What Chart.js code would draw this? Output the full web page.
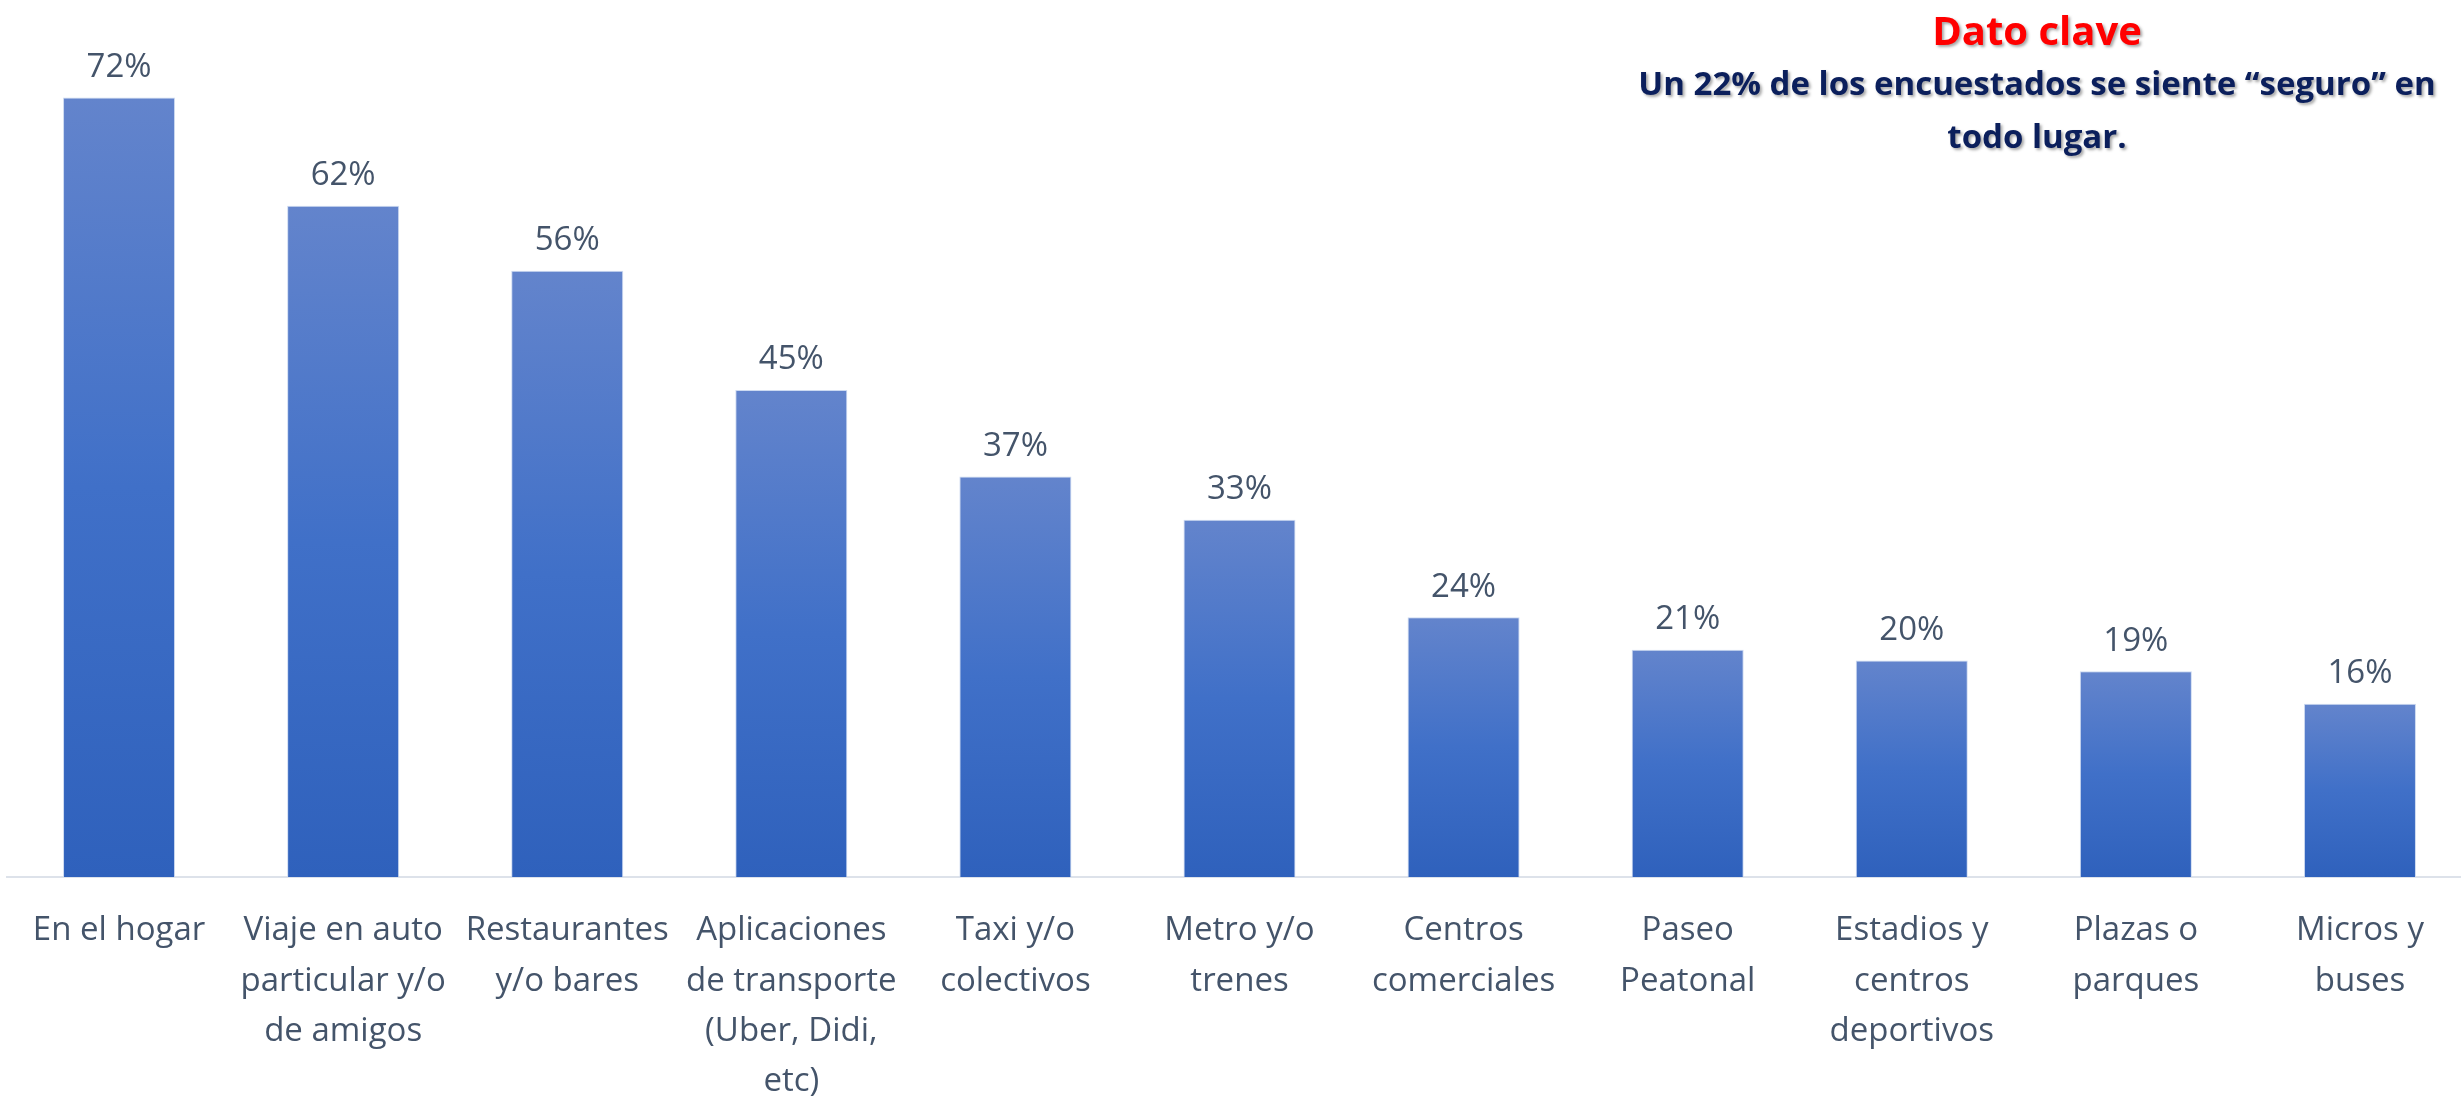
<!DOCTYPE html>
<html>
<head>
<meta charset="utf-8">
<script src="https://cdn.jsdelivr.net/npm/chart.js@4.4.1/dist/chart.umd.min.js"></script>
<style>
  html, body { margin: 0; padding: 0; background: #fff; overflow: hidden; }
  #wrap { position: relative; width: 2461px; height: 1097px; overflow: hidden; }
  #lugarChart { position: absolute; left: 0; top: 0; }
  #dato {
    position: absolute; left: 1537px; width: 1000px; top: 0;
    text-align: center; white-space: nowrap;
    font-family: "Open Sans", sans-serif; font-weight: 700;
    text-shadow: 2px 2px 3px rgba(0,0,0,0.35);
  }
  #dato .rojo { color: #ff0000; font-size: 40px; line-height: 52px; margin-top: 4px; }
  #dato .azul { color: #0b1f5c; font-size: 33px; line-height: 53px; }
</style>
</head>
<body>
<div id="wrap">
  <canvas id="lugarChart" width="2472" height="1097"></canvas>
  <div id="dato">
    <div class="rojo">Dato clave</div>
    <div class="azul">Un 22% de los encuestados se siente “seguro” en<br>todo lugar.</div>
  </div>
</div>
<script>
// lugares donde se sienten seguros
const lugares = [
    "En el hogar",
    ["Viaje en auto", "particular y/o", "de amigos"],
    ["Restaurantes", "y/o bares"],
    ["Aplicaciones", "de transporte", "(Uber, Didi,", "etc)"],
    ["Taxi y/o", "colectivos"],
    ["Metro y/o", "trenes"],
    ["Centros", "comerciales"],
    ["Paseo", "Peatonal"],
    ["Estadios y", "centros", "deportivos"],
    ["Plazas o", "parques"],
    ["Micros y", "buses"]
];
const porcentajes = [72, 62, 56, 45, 37, 33, 24, 21, 20, 19, 16];

const textColor = '#44546a';

// gradiente por barra, claro arriba y oscuro abajo
function barGradient(context) {
    const chart = context.chart;
    const y = chart.scales.y;
    if (!chart.chartArea || !y) return '#4472c4';
    let top = y.getPixelForValue(context.raw);
    let bottom = y.getPixelForValue(0);
    let g = chart.ctx.createLinearGradient(0, top, 0, bottom);
    g.addColorStop(0, '#6384cc');
    g.addColorStop(0.5, '#4070c8');
    g.addColorStop(1, '#2f61bc');
    return g;
}

// etiquetas de valor encima de cada barra
const valueLabels = {
    id: 'valueLabels',
    afterDatasetsDraw(chart) {
        const ctx = chart.ctx;
        const meta = chart.getDatasetMeta(0);
        ctx.save();
        ctx.font = '33px "Open Sans"';
        ctx.fillStyle = textColor;
        ctx.textAlign = 'center';
        ctx.textBaseline = 'middle';
        meta.data.forEach((bar, i) => {
            ctx.fillText(porcentajes[i] + '%', bar.x, bar.y - 30);
        });
        ctx.restore();
    }
};

let ctx = document.getElementById('lugarChart').getContext('2d');

let lugarChart = new Chart(ctx, {
    type: 'bar',
    data: {
        labels: lugares,
        datasets: [{
            data: porcentajes,
            backgroundColor: barGradient,
            borderColor: 'rgba(200,214,240,0.9)',
            borderWidth: 1,
            barPercentage: 0.5,
            categoryPercentage: 1
        }]
    },
    options: {
        responsive: false,
        animation: false,
        layout: { padding: { left: 7, right: 0, top: 11, bottom: 0 } },
        plugins: {
            legend: { display: false },
            tooltip: { enabled: false }
        },
        scales: {
            x: {
                grid: { display: false, drawTicks: false },
                border: { display: true, color: '#dde2ea', width: 2 },
                ticks: {
                    color: textColor,
                    padding: 29,
                    maxRotation: 0,
                    autoSkip: false,
                    font: { family: 'Open Sans', size: 33, lineHeight: 1.52 }
                },
                afterFit: (scale) => { scale.height = 220; }
            },
            y: {
                display: false,
                min: 0,
                max: 80
            }
        }
    },
    plugins: [valueLabels]
});
</script>
</body>
</html>
